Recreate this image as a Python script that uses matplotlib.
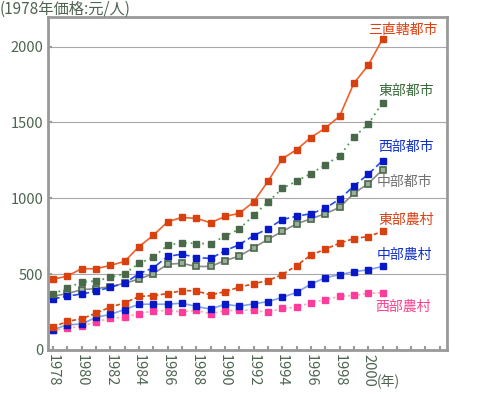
import numpy as np
import matplotlib
matplotlib.use("Agg")
import matplotlib.pyplot as plt

plt.rcParams['font.family'] = ['Noto Sans CJK JP', 'DejaVu Sans']

years = list(range(1978, 2002))

# per-capita income, 1978 prices (yuan/person)
three_cities = [465, 487, 535, 535, 557, 583, 681, 755, 845, 873, 867, 838, 880, 900, 976,
                1111, 1260, 1320, 1400, 1462, 1540, 1758, 1876, 2049]
east_urban = [369, 406, 448, 454, 478, 502, 570, 611, 690, 707, 701, 701, 749, 797, 886,
              975, 1064, 1113, 1162, 1220, 1278, 1402, 1489, 1629]
west_urban = [336, 354, 369, 386, 413, 439, 502, 541, 616, 631, 609, 603, 653, 694, 753,
              799, 859, 881, 898, 933, 994, 1080, 1158, 1247]
central_urban = [354, 371, 397, 404, 417, 439, 467, 502, 565, 570, 550, 550, 589, 618, 673,
                 729, 781, 831, 864, 898, 939, 1032, 1096, 1187]
east_rural = [151, 188, 205, 242, 282, 310, 352, 358, 371, 391, 389, 362, 384, 413, 436,
              457, 496, 556, 625, 664, 703, 734, 747, 781]
central_rural = [133, 166, 170, 214, 234, 266, 301, 301, 301, 308, 286, 269, 301, 288, 303,
                 318, 346, 379, 433, 476, 496, 515, 528, 550]
west_rural = [129, 144, 155, 186, 207, 216, 238, 258, 258, 251, 260, 238, 258, 262, 261,
              247, 273, 281, 312, 331, 353, 359, 372, 377]

fig = plt.figure(figsize=(4.95, 3.94), dpi=100)
ax = fig.add_axes([0.097, 0.112, 0.806, 0.845])

ms = 3.8
ax.plot(years, west_rural, color="#f4b0b0", ls=(0, (1.5, 1.5)), lw=1.2,
        marker="s", ms=ms, mfc="#ff3c9c", mec="#ff3c9c")
ax.plot(years, central_rural, color="#80a0f0", ls="-", lw=1.2,
        marker="s", ms=ms, mfc="#0818c8", mec="#0818c8")
ax.plot(years, east_rural, color="#d84810", ls=(0, (2.5, 1.5)), lw=1.2,
        marker="s", ms=ms, mfc="#d84010", mec="#d84010")
ax.plot(years, central_urban, color="#8a8a8a", ls="-", lw=1.2,
        marker="s", ms=ms, mfc="#9aae9a", mec="#4a684a", mew=1.2)
ax.plot(years, west_urban, color="#2050e8", ls=(0, (4, 2)), lw=1.2,
        marker="s", ms=ms, mfc="#0818c8", mec="#0818c8")
ax.plot(years, east_urban, color="#50a050", ls=(0, (1, 2.2)), lw=1.3,
        marker="s", ms=ms + 0.5, mfc="#4a684a", mec="#4a684a")
ax.plot(years, three_cities, color="#f06028", ls="-", lw=1.2,
        marker="s", ms=ms + 0.5, mfc="#d84010", mec="#d84010")

labels = [
    ("三直轄都市", 2000.0, 2112, "#e04010"),
    ("東部都市", 2000.75, 1707, "#3a6a3a"),
    ("西部都市", 2000.7, 1335, "#1030c8"),
    ("中部都市", 2000.6, 1105, "#707070"),
    ("東部農村", 2000.7, 855, "#d84010"),
    ("中部農村", 2000.6, 625, "#1030c8"),
    ("西部農村", 2000.5, 283, "#ff4090"),
]
for text, x, y, c in labels:
    ax.text(x, y, text, color=c, fontsize=10, ha="left", va="center")

ax.set_xlim(1977.65, 2005.5)
ax.set_ylim(0, 2195)
ax.set_yticks([0, 500, 1000, 1500, 2000])
ax.set_xticks(range(1978, 2006))
ax.set_xticklabels([str(y) if y % 2 == 0 and y <= 2000 else "" for y in range(1978, 2006)],
                   rotation=-90)
ax.tick_params(axis="both", direction="in", colors="#999999", labelcolor="#4e6450",
               labelsize=10.5, length=3, width=1.5)
ax.tick_params(axis="x", pad=3)
ax.grid(axis="y", color="#a8a8a8", lw=0.8)
ax.set_axisbelow(True)
for s in ax.spines.values():
    s.set_color("#999999")
    s.set_linewidth(2)

fig.text(0.0, 0.976, "(1978年価格:元/人)", fontsize=11, color="#4e6450", ha="left", va="center")
fig.text(0.762, 0.03, "(年)", fontsize=10, color="#4e6450", ha="left", va="center")

fig.savefig("out.png", dpi=100)
